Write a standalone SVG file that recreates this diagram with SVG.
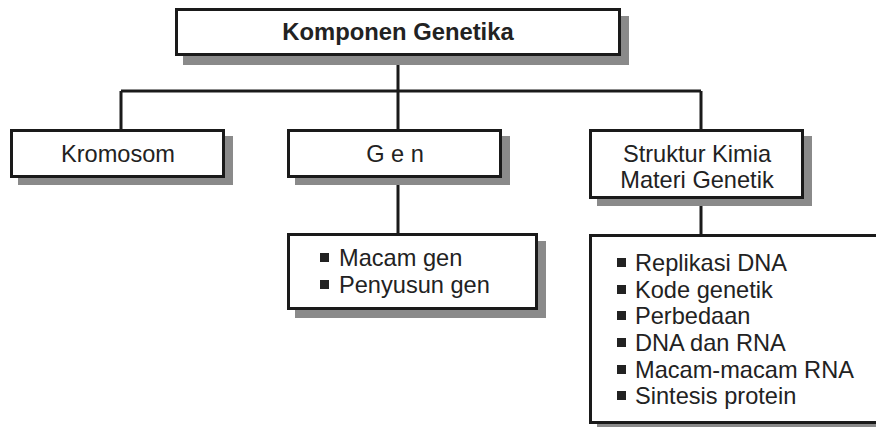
<svg xmlns="http://www.w3.org/2000/svg" width="876" height="427" viewBox="0 0 876 427">
<style>
.shadow{fill:#8a8a8a;stroke:none}
.box{fill:#fff;stroke:#1a1a1a;stroke-width:3}
.conn{fill:none;stroke:#1a1a1a;stroke-width:3}
text{font-family:"Liberation Sans",Arial,sans-serif;font-size:23.6px;fill:#222}
.title{font-weight:bold;text-anchor:middle;font-size:23.8px}
.c{text-anchor:middle}
.bul{fill:#222}
</style>
<rect width="876" height="427" fill="#fff"/>
<g id="connectors">
<path class="conn" d="M398 56V129M121 91H701M121 91V129M701 91V129M398 178V233M701 199V234"/>
</g>
<g id="komponen-genetika">
<rect class="shadow" x="183" y="16" width="446" height="49"/>
<rect class="box" x="176.5" y="9.5" width="443" height="45"/>
<text class="title" x="398" y="40">Komponen Genetika</text>
</g>
<g id="kromosom">
<rect class="shadow" x="18" y="136" width="215" height="49"/>
<rect class="box" x="11.5" y="130.5" width="212" height="46"/>
<text class="c" x="118" y="162">Kromosom</text>
</g>
<g id="gen">
<rect class="shadow" x="295" y="136" width="215" height="49"/>
<rect class="box" x="288.5" y="130.5" width="212" height="46"/>
<text class="c" x="395" y="162">G e n</text>
</g>
<g id="struktur-kimia">
<rect class="shadow" x="597" y="136" width="215" height="70"/>
<rect class="box" x="590.5" y="130.5" width="212" height="67"/>
<text class="c" x="697" y="162">Struktur Kimia</text>
<text class="c" x="697" y="188">Materi Genetik</text>
</g>
<g id="gen-list">
<rect class="shadow" x="295" y="241" width="251" height="77"/>
<rect class="box" x="288.5" y="234.5" width="248" height="74"/>
<rect class="bul" x="320" y="253" width="9" height="9"/>
<text x="339" y="266">Macam gen</text>
<rect class="bul" x="320" y="280" width="9" height="9"/>
<text x="339" y="293">Penyusun gen</text>
</g>
<g id="struktur-list">
<rect class="shadow" x="597" y="242" width="290" height="190"/>
<rect class="box" x="590.5" y="235.5" width="290" height="187"/>
<rect class="bul" x="617" y="258" width="9" height="9"/>
<text x="635" y="271">Replikasi DNA</text>
<rect class="bul" x="617" y="285" width="9" height="9"/>
<text x="635" y="298">Kode genetik</text>
<rect class="bul" x="617" y="311" width="9" height="9"/>
<text x="635" y="324">Perbedaan</text>
<rect class="bul" x="617" y="338" width="9" height="9"/>
<text x="635" y="351">DNA dan RNA</text>
<rect class="bul" x="617" y="365" width="9" height="9"/>
<text x="635" y="378">Macam-macam RNA</text>
<rect class="bul" x="617" y="391" width="9" height="9"/>
<text x="635" y="404">Sintesis protein</text>
</g>
</svg>
